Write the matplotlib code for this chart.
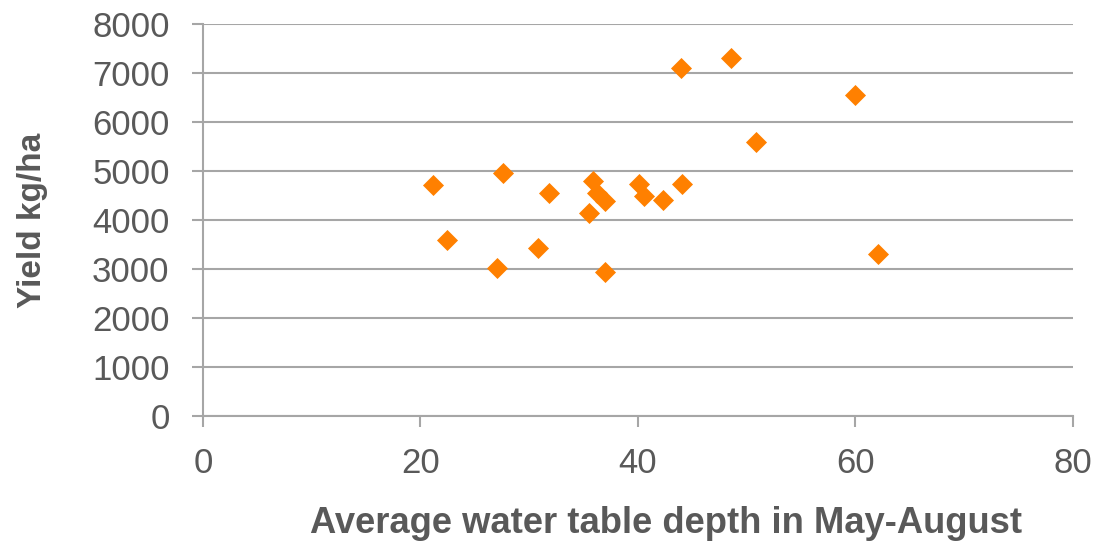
import matplotlib
matplotlib.use("Agg")
import matplotlib.pyplot as plt

# Average water table depth (May-August) vs yield
depth = [21.2, 22.4, 27.0, 27.6, 30.8, 31.8, 35.5, 35.9, 36.2, 37.0,
         37.0, 40.1, 40.6, 42.3, 44.1, 44.0, 48.6, 50.9, 60.0, 62.1]
yield_kg = [4710, 3590, 3020, 4950, 3430, 4550, 4140, 4790, 4550, 4390,
            2940, 4730, 4490, 4410, 4730, 7090, 7310, 5580, 6540, 3310]

x_ticks = [0, 20, 40, 60, 80]
y_ticks = [0, 1000, 2000, 3000, 4000, 5000, 6000, 7000, 8000]

TEXT = '#595959'
GRID = '#A6A6A6'

plt.rcParams['font.family'] = ['Liberation Sans', 'DejaVu Sans']

fig = plt.figure(figsize=(10.97, 5.41), dpi=100)
ax = fig.add_axes([0.185, 0.231, 0.793, 0.725])

ax.scatter(depth, yield_kg, marker='D', s=115, color='#FF8000', linewidths=0, zorder=3)

ax.set_xlim(0, 80)
ax.set_ylim(0, 8000)
ax.set_xticks(x_ticks)
ax.set_yticks(y_ticks)

ax.yaxis.grid(True, color=GRID, linewidth=1.5)
ax.set_axisbelow(True)

for side in ['top', 'right']:
    ax.spines[side].set_visible(False)
for side in ['left', 'bottom']:
    ax.spines[side].set_color(GRID)
    ax.spines[side].set_linewidth(1.5)

ax.tick_params(axis='both', direction='out', length=8, width=1.5, color=GRID,
               labelcolor=TEXT, labelsize=25)
ax.tick_params(axis='y', pad=16)
ax.tick_params(axis='x', pad=14)

ax.set_xlabel('Average water table depth in May-August', fontsize=26.2,
              fontweight='bold', color=TEXT, labelpad=19)
# Excel puts the title a little right of centre
ax.xaxis.label.set_x(0.532)
ax.set_ylabel('Yield kg/ha', fontsize=24, fontweight='bold', color=TEXT, labelpad=32)

fig.savefig('out.png', dpi=100)
